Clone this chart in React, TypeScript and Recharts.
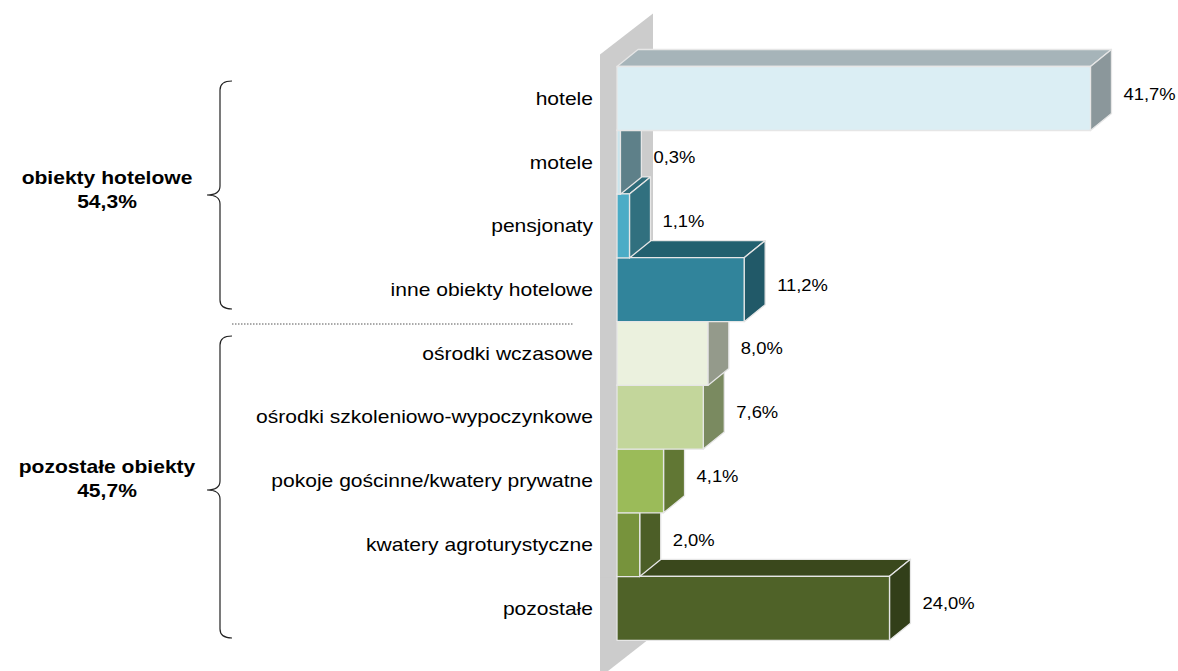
import * as React from "react"
import { Bar, BarChart, LabelList, XAxis, YAxis } from "recharts"

const categories = [
    "hotele",
    "motele",
    "pensjonaty",
    "inne obiekty hotelowe",
    "ośrodki wczasowe",
    "ośrodki szkoleniowo-wypoczynkowe",
    "pokoje gościnne/kwatery prywatne",
    "kwatery agroturystyczne",
    "pozostałe",
]
const shares = [41.7, 0.3, 1.1, 11.2, 8.0, 7.6, 4.1, 2.0, 24.0]

const groupNames = ["obiekty hotelowe", "pozostałe obiekty"]
const groupTotals = ["54,3%", "45,7%"]

const frontColors = ["#dbeef4", "#c9e4ec", "#4bacc6", "#31849b", "#ebf1de", "#c3d69b", "#9bbb59", "#77933c", "#4f6228"]
const topColors = ["#a6b4b9", "#7097a1", "#2f6c7a", "#22606f", "#b4b9ab", "#98a77c", "#6d853d", "#4f6128", "#3a481c"]
const sideColors = ["#8b979b", "#5e8089", "#31707f", "#215968", "#949a8b", "#7a8a60", "#617734", "#4c5e27", "#323f19"]

const FONT = "'Liberation Sans', Arial, sans-serif"
const STRETCH = 1.17
const DX = 21
const DY = -17

// reversed so the bottom bar is painted first and upper bars overlap it
const rows = categories.map((name, idx) => ({ name, value: shares[idx], idx })).reverse()

const fmt = (v: number) => v.toFixed(1).replace(".", ",") + "%"

function Bar3D(props: any) {
    const { x, y, width, height, payload } = props
    const i = payload.idx
    const w = Math.max(width, 0)
    const x2 = x + w
    const edge = { stroke: "#e6e6e6", strokeWidth: 1.3, strokeLinejoin: "round" as const }
    return (
        <g>
            <polygon
                points={`${x},${y} ${x + DX},${y + DY} ${x2 + DX},${y + DY} ${x2},${y}`}
                fill={topColors[i]}
                {...edge}
            />
            <polygon
                points={`${x2},${y} ${x2 + DX},${y + DY} ${x2 + DX},${y + height + DY} ${x2},${y + height}`}
                fill={sideColors[i]}
                {...edge}
            />
            <rect x={x} y={y} width={w} height={height} fill={frontColors[i]} {...edge} />
        </g>
    )
}

// grey back wall, one slice per category band
function WallPiece(props: any) {
    const { x, y, height, index } = props
    const L = x
    const fill = "#cccccc"
    const last = rows.length - 1
    return (
        <g>
            <rect x={L - 17} y={y} width={53} height={height + 0.5} fill={fill} />
            {index === last && (
                <polygon points={`${L - 17},${y + 0.5} ${L - 17},${y - 12} ${L + 36},${y - 53} ${L + 36},${y + 0.5}`} fill={fill} />
            )}
            {index === 0 && (
                <polygon
                    points={`${L - 17},${y + height - 0.5} ${L + 31},${y + height - 0.5} ${L - 17},${y + height + 37}`}
                    fill={fill}
                />
            )}
        </g>
    )
}

function CategoryTick(props: any) {
    const { x, y, payload } = props
    return (
        <text
            transform={`translate(${x},${y + 6.5}) scale(${STRETCH},1)`}
            textAnchor="end"
            fontFamily={FONT}
            fontSize={18}
            fill="#000"
        >
            {payload.value}
        </text>
    )
}

function ValueLabel(props: any) {
    const { x, y, width, height, value } = props
    const cx = x + width + 33
    const cy = y + height / 2 + 1
    return (
        <text
            transform={`translate(${cx},${cy}) scale(1.15,1)`}
            textAnchor="start"
            fontFamily={FONT}
            fontSize={16}
            fill="#000"
        >
            {fmt(value)}
        </text>
    )
}

function GroupNotes() {
    const brace1 = "M232,81 Q220,81 220,90 L220,186 Q220,195 207,195 Q220,195 220,204 L220,300 Q220,309 232,309"
    const brace2 = "M232,336 Q220,336 220,345 L220,481 Q220,490 207,490 Q220,490 220,499 L220,629 Q220,638 232,638"
    const lines = [
        { y: 184, text: groupNames[0] },
        { y: 208, text: groupTotals[0] },
        { y: 473, text: groupNames[1] },
        { y: 497, text: groupTotals[1] },
    ]
    return (
        <svg width={1178} height={671} style={{ position: "absolute", left: 0, top: 0, pointerEvents: "none" }}>
            <path d={brace1} fill="none" stroke="#222" strokeWidth={1.2} />
            <path d={brace2} fill="none" stroke="#222" strokeWidth={1.2} />
            <line x1={232} y1={324} x2={574} y2={324} stroke="#555" strokeWidth={1} strokeDasharray="1.5 1.5" />
            {lines.map((l) => (
                <text
                    key={l.text}
                    transform={`translate(107,${l.y}) scale(${STRETCH},1)`}
                    textAnchor="middle"
                    fontFamily={FONT}
                    fontSize={18}
                    fontWeight="bold"
                    fill="#000"
                >
                    {l.text}
                </text>
            ))}
        </svg>
    )
}

export default function App() {
    return (
        <div style={{ position: "absolute", left: 0, top: 0, width: 1178, height: 671, background: "#fff" }}>
            <BarChart
                width={1178}
                height={671}
                data={rows}
                layout="vertical"
                barCategoryGap={0}
                margin={{ top: 66.5, right: 16, bottom: 31, left: 0 }}
            >
                <XAxis type="number" domain={[0, 48]} hide />
                <YAxis
                    type="category"
                    dataKey="name"
                    reversed
                    width={617}
                    axisLine={false}
                    tickLine={false}
                    tickSize={0}
                    tickMargin={24}
                    interval={0}
                    tick={CategoryTick}
                />
                <Bar dataKey="value" isAnimationActive={false} shape={Bar3D} background={WallPiece}>
                    <LabelList dataKey="value" content={ValueLabel} />
                </Bar>
            </BarChart>
            <GroupNotes />
        </div>
    )
}
